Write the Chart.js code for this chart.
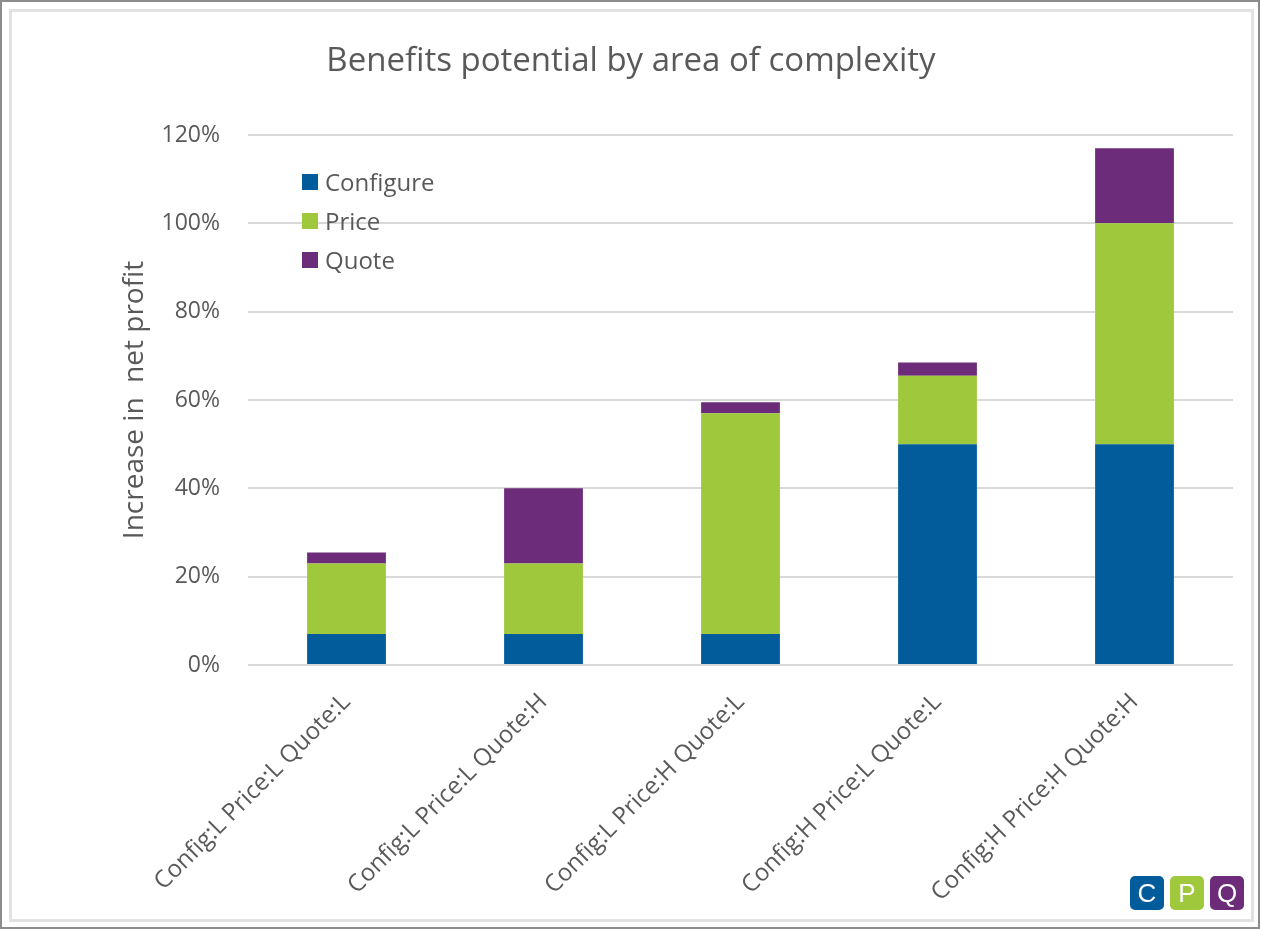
<!DOCTYPE html>
<html><head><meta charset="utf-8">
<script src="https://cdn.jsdelivr.net/npm/chart.js@4.4.0/dist/chart.umd.min.js"></script>
<style>
html,body{margin:0;padding:0;background:#fff;}
#wrap{position:relative;width:1261px;height:929px;overflow:hidden;background:#fff;}
#c{position:absolute;left:0;top:0;}
#outer{position:absolute;left:0;top:0;width:1256px;height:925px;border:2px solid #8c8c8c;pointer-events:none;}
#inner{position:absolute;left:9px;top:9px;width:1239px;height:907px;border:3px solid #e2e2e2;pointer-events:none;}
#logo{position:absolute;left:1130px;top:876px;display:flex;gap:6px;}
#logo span{width:34px;height:34px;border-radius:5px;color:#fff;font:26px "Liberation Sans",Arial,sans-serif;display:flex;align-items:center;justify-content:center;}
</style></head>
<body>
<div id="wrap">
<canvas id="c" width="1261" height="929"></canvas>
<div id="inner"></div>
<div id="outer"></div>
<div id="logo"><span style="background:#025c9c">C</span><span style="background:#9fc83d">P</span><span style="background:#6d2c79">Q</span></div>
</div>
<script>
const chartTitle = 'Benefits potential by area of complexity';
const categories = ['Config:L Price:L Quote:L', 'Config:L Price:L Quote:H', 'Config:L Price:H Quote:L', 'Config:H Price:L Quote:L', 'Config:H Price:H Quote:H'];
const seriesNames = ['Configure', 'Price', 'Quote'];
const configureValues = [7, 7, 7, 50, 50];
const priceValues = [16, 16, 50, 15.5, 50];
const quoteValues = [2.5, 17, 2.5, 3, 17];
const yTickValues = [0, 20, 40, 60, 80, 100, 120];
const seriesColors = ['#025c9c', '#9fc83d', '#6d2c79'];

const TXT = '#595959';
const FAM = '"Open Sans", "Noto Sans", sans-serif';

const insideLegend = {
  id: 'insideLegend',
  afterDatasetsDraw(chart) {
    const ctx = chart.ctx;
    ctx.save();
    ctx.font = '24px ' + FAM;
    ctx.textBaseline = 'middle';
    chart.data.datasets.forEach((ds, i) => {
      const y = 182 + i * 39;
      ctx.fillStyle = ds.backgroundColor;
      ctx.fillRect(302, y - 8, 16, 16);
      ctx.fillStyle = TXT;
      ctx.fillText(ds.label, 325, y + 2);
    });
    ctx.restore();
  }
};

const centeredTitle = {
  id: 'centeredTitle',
  afterDraw(chart) {
    const ctx = chart.ctx;
    ctx.save();
    ctx.font = '33px ' + FAM;
    ctx.fillStyle = TXT;
    ctx.textAlign = 'center';
    ctx.textBaseline = 'middle';
    ctx.fillText(chartTitle, 631, 62);
    ctx.restore();
  }
};

function build() {
  const valueSets = [configureValues, priceValues, quoteValues];
  new Chart(document.getElementById('c'), {
    type: 'bar',
    data: {
      labels: categories,
      datasets: seriesNames.map((n, i) => ({
        label: n,
        data: valueSets[i],
        backgroundColor: seriesColors[i],
        borderWidth: 0,
        categoryPercentage: 1,
        barPercentage: 0.4
      }))
    },
    options: {
      responsive: false,
      animation: false,
      layout: { padding: { left: 0, right: 28, top: 135, bottom: 0 } },
      plugins: {
        legend: { display: false },
        tooltip: { enabled: false },
        title: { display: false }
      },
      scales: {
        x: {
          stacked: true,
          grid: { display: false },
          border: { display: false },
          ticks: {
            color: TXT,
            font: { family: FAM, size: 24 },
            minRotation: 45, maxRotation: 45,
            autoSkip: false,
            padding: 15
          },
          afterFit(s) { s.height = 929 - 665; }
        },
        y: {
          stacked: true,
          min: 0, max: 120,
          afterBuildTicks(s) { s.ticks = yTickValues.map(v => ({ value: v })); },
          grid: { color: '#d9d9d9', lineWidth: 2, drawTicks: false },
          border: { display: false },
          ticks: {
            color: TXT,
            font: { family: FAM, size: 23 },
            padding: 28,
            callback: v => v + '%'
          },
          title: {
            display: true,
            text: 'Increase in  net profit',
            color: TXT,
            font: { family: FAM, size: 28, lineHeight: 1.2 },
            padding: { top: 118, bottom: 0 }
          },
          afterFit(s) { s.width = 248; }
        }
      }
    },
    plugins: [insideLegend, centeredTitle]
  });
}
Promise.all([
  document.fonts.load('22px "Open Sans"'),
  document.fonts.load('30px "Open Sans"')
]).then(build, build);
</script>
</body></html>
